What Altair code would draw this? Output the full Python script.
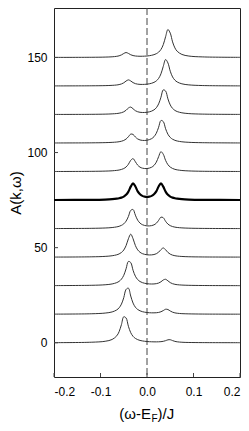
import altair as alt
import pandas as pd

# energy grid (omega - E_F)/J
OMEGA = [-0.200, -0.120, -0.090, -0.075, -0.065, -0.060, -0.055, -0.050, -0.045,
         -0.040, -0.035, -0.030, -0.025, -0.020, -0.015, -0.010, -0.005, 0.000,
         0.005, 0.010, 0.015, 0.020, 0.025, 0.030, 0.035, 0.040, 0.045, 0.050,
         0.055, 0.060, 0.065, 0.075, 0.090, 0.120, 0.200]

# spectral functions A(k, omega), bottom curve first (before the vertical offset)
A_0 = [0.06, 0.28, 0.78, 1.73, 3.66, 5.83, 9.54, 13.67, 13.03, 8.67, 5.30, 3.37, 2.29, 1.64, 1.23, 0.97, 0.78, 0.66,
       0.56, 0.51, 0.48, 0.47, 0.50, 0.58, 0.76, 1.10, 1.54, 1.59, 1.14, 0.74, 0.50, 0.27, 0.15, 0.08, 0.03]
A_1 = [0.06, 0.24, 0.61, 1.21, 2.28, 3.37, 5.31, 8.69, 13.05, 13.70, 9.57, 5.87, 3.70, 2.49, 1.79, 1.35, 1.08, 0.90,
       0.78, 0.73, 0.73, 0.78, 0.95, 1.30, 1.92, 2.62, 2.47, 1.70, 1.08, 0.72, 0.52, 0.31, 0.19, 0.09, 0.03]
A_2 = [0.06, 0.21, 0.49, 0.92, 1.63, 2.29, 3.43, 5.45, 8.90, 12.75, 12.16, 8.12, 4.99, 3.21, 2.20, 1.62, 1.27, 1.06,
       0.93, 0.89, 0.92, 1.07, 1.40, 2.05, 3.00, 3.38, 2.54, 1.62, 1.05, 0.73, 0.53, 0.33, 0.20, 0.10, 0.03]
A_3 = [0.05, 0.18, 0.41, 0.75, 1.25, 1.71, 2.46, 3.76, 6.07, 9.68, 12.09, 9.71, 6.12, 3.84, 2.58, 1.87, 1.47, 1.25,
       1.17, 1.20, 1.38, 1.80, 2.62, 3.96, 4.84, 3.89, 2.48, 1.58, 1.06, 0.77, 0.58, 0.37, 0.22, 0.11, 0.04]
A_4 = [0.05, 0.16, 0.34, 0.58, 0.93, 1.23, 1.72, 2.52, 3.93, 6.39, 9.58, 10.06, 7.09, 4.44, 2.91, 2.08, 1.66, 1.45,
       1.43, 1.59, 1.98, 2.83, 4.34, 6.03, 5.73, 3.86, 2.40, 1.57, 1.08, 0.80, 0.61, 0.40, 0.24, 0.12, 0.04]
A_5 = [0.05, 0.14, 0.29, 0.48, 0.74, 0.96, 1.31, 1.85, 2.80, 4.47, 7.08, 8.83, 7.16, 4.63, 3.05, 2.23, 1.83, 1.72,
       1.83, 2.23, 3.05, 4.63, 7.16, 8.83, 7.08, 4.47, 2.80, 1.85, 1.31, 0.96, 0.74, 0.48, 0.29, 0.14, 0.05]
A_6 = [0.04, 0.13, 0.25, 0.41, 0.64, 0.82, 1.12, 1.59, 2.41, 3.84, 5.92, 6.80, 5.17, 3.36, 2.32, 1.80, 1.60, 1.60,
       1.82, 2.29, 3.22, 4.94, 7.84, 10.47, 9.11, 5.87, 3.63, 2.36, 1.63, 1.18, 0.90, 0.57, 0.34, 0.16, 0.05]
A_7 = [0.04, 0.11, 0.22, 0.36, 0.54, 0.70, 0.95, 1.36, 2.09, 3.32, 4.70, 4.53, 3.18, 2.15, 1.61, 1.39, 1.35, 1.48,
       1.78, 2.32, 3.33, 5.16, 8.32, 11.85, 11.29, 7.52, 4.61, 2.95, 2.00, 1.43, 1.07, 0.66, 0.38, 0.18, 0.05]
A_8 = [0.04, 0.10, 0.20, 0.34, 0.52, 0.69, 0.96, 1.42, 2.24, 3.41, 3.92, 3.02, 2.01, 1.44, 1.16, 1.06, 1.07, 1.18,
       1.40, 1.79, 2.43, 3.55, 5.59, 9.07, 12.96, 12.35, 8.23, 5.03, 3.20, 2.17, 1.55, 0.90, 0.48, 0.21, 0.06]
A_9 = [0.04, 0.10, 0.19, 0.33, 0.53, 0.74, 1.07, 1.67, 2.59, 3.21, 2.64, 1.77, 1.23, 0.96, 0.84, 0.82, 0.86, 0.96,
       1.15, 1.43, 1.90, 2.67, 4.00, 6.39, 10.34, 13.91, 12.11, 7.77, 4.76, 3.07, 2.10, 1.14, 0.58, 0.23, 0.06]
A_10 = [0.03, 0.09, 0.19, 0.34, 0.60, 0.87, 1.34, 2.08, 2.58, 2.12, 1.42, 0.99, 0.77, 0.66, 0.63, 0.64, 0.69, 0.78,
        0.92, 1.14, 1.46, 1.97, 2.79, 4.20, 6.73, 10.91, 14.68, 12.79, 8.19, 5.02, 3.23, 1.59, 0.74, 0.28, 0.07]

SPECTRA = [A_0, A_1, A_2, A_3, A_4, A_5, A_6, A_7, A_8, A_9, A_10]
OFFSETS = [0, 15, 30, 45, 60, 75, 90, 105, 120, 135, 150]
BOLD_INDEX = 5

X_TICKS = [-0.2, -0.1, 0.0, 0.1, 0.2]
Y_TICKS = [0, 50, 100, 150]
FERMI = [0.0]
Y_TITLE = "A(k,ω)"
X_TITLE_MAIN = "(ω-E"
X_TITLE_SUB = "F"
X_TITLE_END = ")/J"

rows = []
for k, (spec, off) in enumerate(zip(SPECTRA, OFFSETS)):
    for w, a in zip(OMEGA, spec):
        rows.append({"w": w, "A": a + off, "k": k, "bold": k == BOLD_INDEX})
df = pd.DataFrame(rows)

W, H = 186, 369
FONT = "Liberation Sans"

xs = alt.Scale(domain=[-0.2, 0.2], nice=False, zero=False)
ys = alt.Scale(domain=[-18, 176], nice=False, zero=False)

x_axis = alt.Axis(values=X_TICKS, tickSize=0, labelPadding=9, domain=False, grid=False, title=None,
                  labelExpr="(datum.value < 0 ? '-' : '') + format(abs(datum.value), '.1f')")
y_axis = alt.Axis(values=Y_TICKS, tickSize=0, labelPadding=7, domain=False, grid=False,
                  title=Y_TITLE, titleX=-34, titleY=H / 2, titleAngle=270, titleAlign="center",
                  titleBaseline="alphabetic", titleFontSize=15, titleFontWeight="normal",
                  titleFont=FONT, titleColor="#000")

base = alt.Chart(df).encode(
    x=alt.X("w:Q", scale=xs, axis=x_axis),
    y=alt.Y("A:Q", scale=ys, axis=y_axis),
    detail="k:N",
)

thin = base.transform_filter("!datum.bold").mark_line(
    color="#333", strokeWidth=1, interpolate="catmull-rom")
bold = base.transform_filter("datum.bold").mark_line(
    color="#000", strokeWidth=2.2, interpolate="catmull-rom")

fermi = alt.Chart(pd.DataFrame({"w": FERMI})).mark_rule(
    color="#444", strokeWidth=1, strokeDash=[7, 3]).encode(x=alt.X("w:Q", scale=xs))

xticks = alt.Chart(pd.DataFrame({"w": X_TICKS})).mark_rule(color="#444", strokeWidth=1).encode(
    x=alt.X("w:Q", scale=xs), y=alt.value(H), y2=alt.value(H - 4))
yticks = alt.Chart(pd.DataFrame({"A": Y_TICKS})).mark_rule(color="#444", strokeWidth=1).encode(
    y=alt.Y("A:Q", scale=ys), x=alt.value(0), x2=alt.value(4))

t1 = alt.Chart(pd.DataFrame({"t": [X_TITLE_MAIN]})).mark_text(
    align="right", baseline="alphabetic", fontSize=15, font=FONT, color="#000").encode(
    x=alt.value(97), y=alt.value(411), text="t:N")
t2 = alt.Chart(pd.DataFrame({"t": [X_TITLE_SUB]})).mark_text(
    align="left", baseline="alphabetic", fontSize=10, font=FONT, color="#000").encode(
    x=alt.value(97.5), y=alt.value(414), text="t:N")
t3 = alt.Chart(pd.DataFrame({"t": [X_TITLE_END]})).mark_text(
    align="left", baseline="alphabetic", fontSize=15, font=FONT, color="#000").encode(
    x=alt.value(103.5), y=alt.value(411), text="t:N")

chart = alt.layer(fermi, thin, bold, xticks, yticks, t1, t2, t3).properties(
    width=W, height=H,
    autosize=alt.AutoSizeParams(type="none"),
    padding={"left": 46, "top": 0, "right": 1, "bottom": 46},
).configure_view(stroke="#222", strokeWidth=1).configure_axis(
    labelFont=FONT, labelFontSize=12, labelColor="#000")

chart.save("out.html", embed_options={"renderer": "svg", "actions": False})
